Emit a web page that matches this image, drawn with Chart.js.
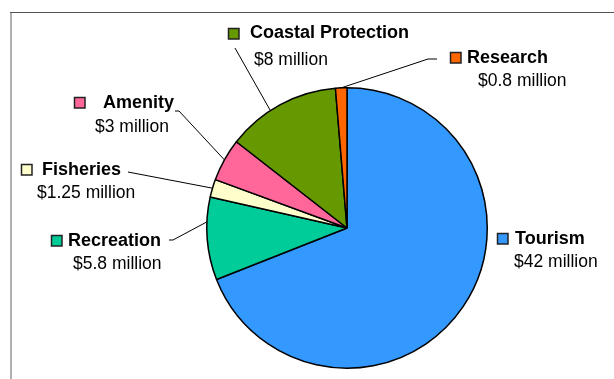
<!DOCTYPE html>
<html>
<head>
<meta charset="utf-8">
<script src="https://cdn.jsdelivr.net/npm/chart.js@4/dist/chart.umd.min.js"></script>
<style>
  html, body { margin: 0; padding: 0; background: #fff; }
  #wrap { width: 614px; height: 379px; position: relative; }
</style>
</head>
<body>
<div id="wrap"><canvas id="pieChart"></canvas></div>
<script>
// ---------------- DATA ----------------
const categories = ['Tourism', 'Recreation', 'Fisheries', 'Amenity', 'Coastal Protection', 'Research'];
const values = [42, 5.8, 1.25, 3, 8, 0.8];
const valueLabels = ['$42 million', '$5.8 million', '$1.25 million', '$3 million', '$8 million', '$0.8 million'];
const colors = ['#3399FF', '#00CC99', '#FFFFCC', '#FF6699', '#669900', '#FF6600'];

// label placement (square/name/value positions, leader line start points)
const labelLayout = [
  { sq: [497, 233], name: [515, 239], val: [514, 262], line: null },
  { sq: [51, 235], name: [68, 241], val: [73, 264], line: [[169, 240], [173, 240]], frac: 0.7 },
  { sq: [21, 164], name: [42, 170], val: [37, 193], line: [[128, 172]], frac: 0.5 },
  { sq: [74, 97], name: [103, 103], val: [95, 127], line: [[175, 111], [179, 111]], frac: 0.5 },
  { sq: [228, 28], name: [250, 33.5], val: [254, 60], line: [[235, 48]], frac: 0.4 },
  { sq: [450, 52], name: [467, 58], val: [478, 81], line: [[437, 59], [428, 59]], frac: 0.5 }
];

// ---------------- PLUGINS ----------------
const framePlugin = {
  id: 'frame',
  beforeDraw(chart) {
    const ctx = chart.ctx;
    ctx.save();
    ctx.strokeStyle = '#b0b0b0';
    ctx.lineWidth = 2;
    ctx.beginPath();
    ctx.moveTo(11, 12);
    ctx.lineTo(11, 379);
    ctx.stroke();
    ctx.strokeStyle = '#555';
    ctx.lineWidth = 1;
    ctx.beginPath();
    ctx.moveTo(10, 12.5);
    ctx.lineTo(614, 12.5);
    ctx.stroke();
    ctx.restore();
  }
};

const labelPlugin = {
  id: 'sliceLabels',
  afterDraw(chart) {
    const ctx = chart.ctx;
    const arcs = chart.getDatasetMeta(0).data;
    ctx.save();
    arcs.forEach((arc, i) => {
      const lay = labelLayout[i];
      // leader line
      if (lay.line) {
        const p = arc.getProps(['x', 'y', 'startAngle', 'endAngle', 'outerRadius'], true);
        const a = p.startAngle + (p.endAngle - p.startAngle) * lay.frac;
        const ex = p.x + Math.cos(a) * p.outerRadius;
        const ey = p.y + Math.sin(a) * p.outerRadius;
        ctx.strokeStyle = '#000';
        ctx.lineWidth = 1;
        ctx.beginPath();
        ctx.moveTo(lay.line[0][0], lay.line[0][1]);
        for (let k = 1; k < lay.line.length; k++) ctx.lineTo(lay.line[k][0], lay.line[k][1]);
        ctx.lineTo(ex, ey);
        ctx.stroke();
      }
      // legend key
      ctx.fillStyle = colors[i];
      ctx.fillRect(lay.sq[0], lay.sq[1], 11, 11);
      ctx.strokeStyle = '#222';
      ctx.lineWidth = 1.5;
      ctx.strokeRect(lay.sq[0] + 0.5, lay.sq[1] + 0.5, 10.5, 10.5);
      // texts
      ctx.fillStyle = '#000';
      ctx.textAlign = 'left';
      ctx.textBaseline = 'middle';
      ctx.font = 'bold 18px "Liberation Sans", Arial, sans-serif';
      ctx.fillText(categories[i], lay.name[0], lay.name[1]);
      ctx.font = '17.5px "Liberation Sans", Arial, sans-serif';
      ctx.fillText(valueLabels[i], lay.val[0], lay.val[1]);
    });
    ctx.restore();
  }
};

// ---------------- CHART ----------------
const ctx = document.getElementById('pieChart').getContext('2d');
new Chart(ctx, {
  type: 'pie',
  data: {
    labels: categories,
    datasets: [{
      data: values,
      backgroundColor: colors,
      borderColor: '#000',
      borderWidth: 1.5
    }]
  },
  options: {
    responsive: true,
    maintainAspectRatio: false,
    animation: false,
    layout: { padding: { left: 206, right: 126, top: 87, bottom: 10 } },
    plugins: {
      legend: { display: false },
      tooltip: { enabled: false }
    }
  },
  plugins: [framePlugin, labelPlugin]
});
</script>
</body>
</html>
